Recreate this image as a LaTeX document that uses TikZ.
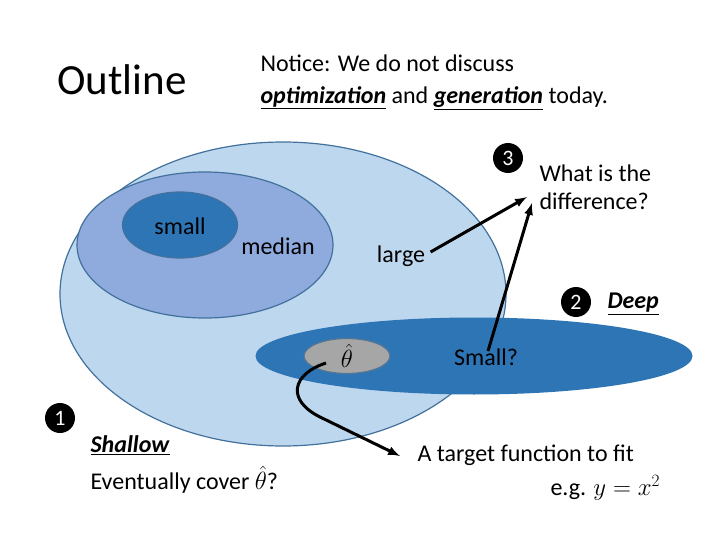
\documentclass[tikz,border=0pt]{standalone}
\usepackage{fontspec}
\setmainfont{Carlito}
\usetikzlibrary{shapes.geometric}

\definecolor{paleblue}{HTML}{BDD7EE}
\definecolor{midblue}{HTML}{8FAADC}
\definecolor{deepblue}{HTML}{2E75B6}
\definecolor{edgeblue}{HTML}{41719C}
\definecolor{thetagray}{HTML}{A6A6A6}

\begin{document}
\begin{tikzpicture}[x=1pt, y=-1pt, font=\fontsize{24}{29}\selectfont]
    \tikzset{>=latex}
    \tikzset{region/.style={ellipse, inner sep=0pt, draw=edgeblue, line width=1.2pt}}
    \tikzset{numdot/.style={circle, fill=black, text=white, minimum size=30pt, inner sep=0pt, font=\fontsize{22}{26}\selectfont}}
    \tikzset{link/.style={->, line width=3pt}}
    \useasboundingbox (0,0) rectangle (720,540);

    % the nested ellipses
    \node [region, fill=paleblue, minimum width=446pt, minimum height=304pt] (largeset) at (283,294) {};
    \node [region, fill=midblue, minimum width=256pt, minimum height=146pt] (medianset) at (205,245) {};
    \node [region, fill=deepblue, minimum width=115pt, minimum height=66pt] (smallset) at (180,225) {};
    \node [ellipse, fill=deepblue, inner sep=0pt, minimum width=437pt, minimum height=77pt] (deepset) at (474,356) {};
    \node [region, fill=thetagray, draw=edgeblue!70!gray, minimum width=86pt, minimum height=35pt] (theta) at (347,356) {$\hat{\theta}$};

    \node at (122,80) (title) {\fontsize{43}{50}\selectfont Outline};
    \node at (257,82) [anchor=west, align=left, font=\fontsize{24}{32}\selectfont] (notice) {Notice: We do not discuss\\ \underline{\textbf{\textit{optimization}}} and \underline{\textbf{\textit{generation}}} today.};

    \node at (180,226) (small) {small};
    \node at (278,246) (median) {median};
    \node at (401,256) (large) {large};
    \node at (486,357) (smallq) {Small?};

    \node [numdot] at (508,158) (n3) {3};
    \node [numdot] at (576,302) (n2) {2};
    \node [numdot] at (60,418) (n1) {1};

    \node at (536,187) [anchor=west, align=left, font=\fontsize{24}{28}\selectfont] (diff) {What is the\\difference?};
    \node at (604,304) [anchor=west] (deep) {\underline{\textbf{\textit{Deep}}}};
    \node at (87,445) [anchor=west] (shallow) {\underline{\textbf{\textit{Shallow}}}};
    \node at (87,480) [anchor=west] (cover) {Eventually cover $\hat{\theta}$?};
    \node at (414,455) [anchor=west] (target) {A target function to fit};
    \node at (547,488) [anchor=west] (eg) {e.g. $y=x^2$};

    \coordinate (tip1) at (527,197);
    \coordinate (tip2) at (532,203);
    \coordinate (tip3) at (400,456);
    \coordinate (from3) at (326,363);

    \draw [link] (large.east) ++(2,-4) -- (tip1);
    \draw [link] (smallq.north) ++(2,6) -- (tip2);
    \draw [link] (from3) .. controls (292,374) and (286,400) .. (320,417) -- (tip3);
\end{tikzpicture}
\end{document}
